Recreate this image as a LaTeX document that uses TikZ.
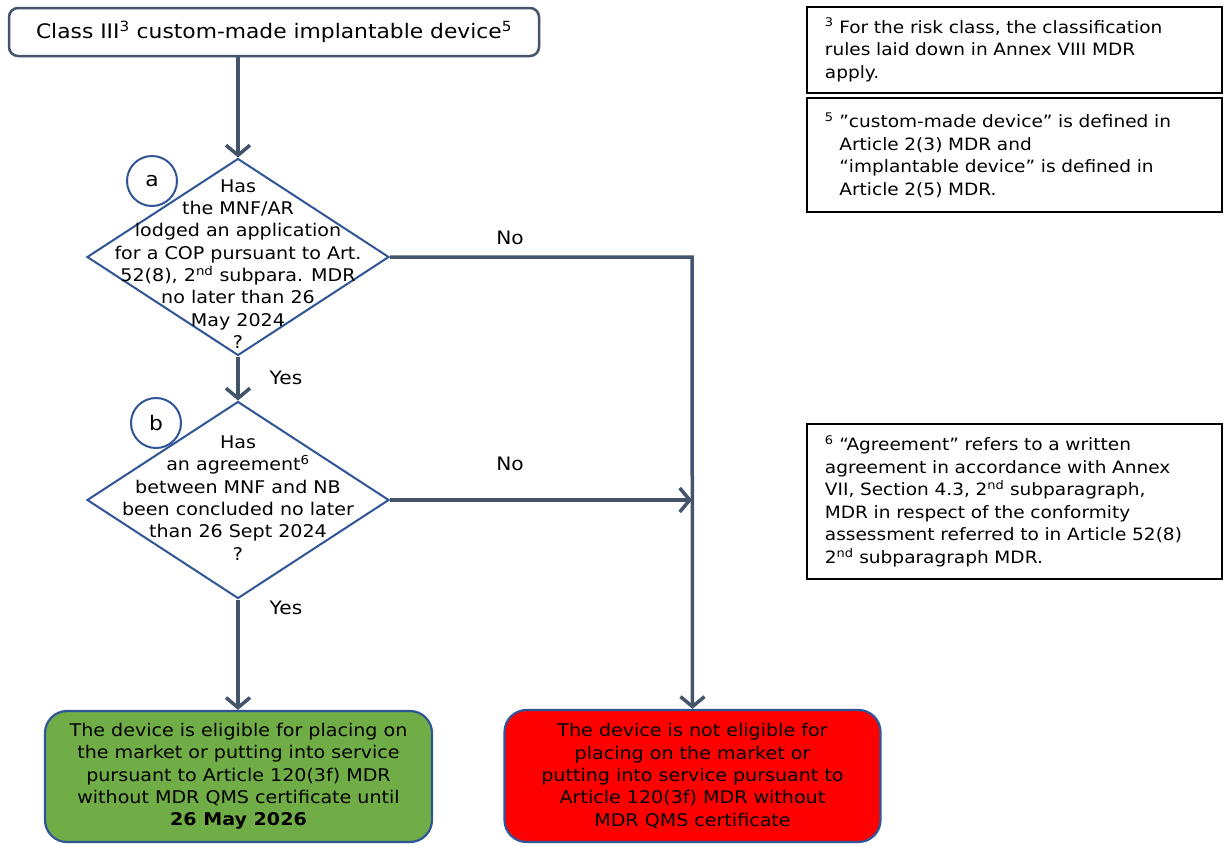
\documentclass[tikz,border=0pt]{standalone}
\usepackage{fontspec}
\setmainfont[FakeStretch=1.09]{DejaVu Sans}
\usetikzlibrary{shapes.geometric,arrows.meta}
\definecolor{arrowc}{HTML}{44546A}
\definecolor{blueb}{HTML}{2F5597}
\definecolor{greenf}{HTML}{70AD47}
\definecolor{redf}{HTML}{FF0000}
\begin{document}
\begin{tikzpicture}[x=1pt,y=-1pt,
  txt/.style={font=\fontsize{17.5}{22.3}\selectfont, align=center, inner sep=0pt},
  fnbox/.style={draw=black, line width=1.8pt, anchor=north west, minimum width=415pt, inner xsep=18pt,
     text width=379pt, align=left, font=\fontsize{17}{22.5}\selectfont},
  dia/.style={diamond, draw=blueb, line width=2pt, minimum width=302pt, minimum height=197pt, inner sep=0pt},
  circ/.style={circle, draw=blueb, line width=2pt, minimum size=50pt, inner sep=0pt, font=\fontsize{20}{24}\selectfont},
  endbox/.style={draw=blueb, line width=2.2pt, rounded corners=22pt, inner sep=0pt, txt},
  flow/.style={draw=arrowc, line width=3.5pt, -{Straight Barb[length=10pt,width=24pt,line width=3.5pt]}},
  lbl/.style={font=\fontsize{18.5}{22}\selectfont, inner sep=0pt}]
\useasboundingbox (0,0) rectangle (1229,844);

% start box
\node[draw=arrowc, line width=2.5pt, rounded corners=9pt, minimum width=530pt, minimum height=48pt, inner sep=0pt,
      font=\fontsize{20}{24}\selectfont] (start) at (274,32) {Class III\textsuperscript{3} custom-made implantable device\textsuperscript{5}};

% diamond a
\node[dia] (da) at (238,257) {};
\node[txt] (dat) at (238,264) {Has\\the MNF/AR\\lodged an application\\for a COP pursuant to Art.\\52(8), 2\textsuperscript{nd} subpara. MDR\\no later than 26\\May 2024\\?};
\node[circ] (ca) at (152,181) {a};

% diamond b
\node[dia] (db) at (238,500) {};
\node[txt] (dbt) at (238,498) {Has\\an agreement\textsuperscript{6}\\between MNF and NB\\been concluded no later\\than 26 Sept 2024\\?};
\node[circ] (cb) at (156,423) {b};

% end boxes
\node[endbox, fill=greenf, minimum width=387pt, minimum height=131pt] (yes) at (238.5,776.5)
  {The device is eligible for placing on\\the market or putting into service\\pursuant to Article 120(3f) MDR\\without MDR QMS certificate until\\\textbf{26 May 2026}};
\node[endbox, fill=redf, minimum width=376pt, minimum height=132pt] (no) at (692.5,776)
  {The device is not eligible for\\placing on the market or\\putting into service pursuant to\\Article 120(3f) MDR without\\MDR QMS certificate};

% junction coordinates
\coordinate (ja) at (692,257);
\coordinate (jb) at (692,500);

% connectors
\draw[flow] (start.south -| da.north) -- (da.north);
\draw[flow] (da.south) -- (db.north);
\draw[flow] (db.south) -- (yes.north -| db.south);
\draw[flow] (da.east) -- (ja) -- (no.north);
\draw[flow] (db.east) -- (jb);

% labels
\node[lbl] (noa) at (510,238) {No};
\node[lbl] (nob) at (510,464) {No};
\node[lbl] (yesa) at (286,378) {Yes};
\node[lbl] (yesb) at (286,608) {Yes};

% footnotes
\node[fnbox, minimum height=86pt] (fn3) at (806,6)
  {\textsuperscript{3} For the risk class, the classification\\rules laid down in Annex VIII MDR\\apply.};
\node[fnbox, minimum height=114pt] (fn5) at (806,97)
  {\textsuperscript{5} ”custom-made device” is defined in\\\hspace*{0.85em}Article 2(3) MDR and\\\hspace*{0.85em}“implantable device” is defined in\\\hspace*{0.85em}Article 2(5) MDR.};
\node[fnbox, minimum height=155pt] (fn6) at (806,423)
  {\textsuperscript{6} “Agreement” refers to a written\\agreement in accordance with Annex\\VII, Section 4.3, 2\textsuperscript{nd} subparagraph,\\MDR in respect of the conformity\\assessment referred to in Article 52(8)\\2\textsuperscript{nd} subparagraph MDR.};
\end{tikzpicture}
\end{document}
